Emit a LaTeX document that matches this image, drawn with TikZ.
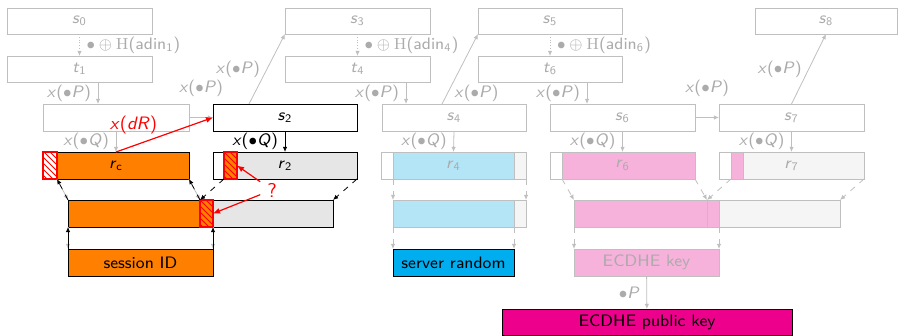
\documentclass[tikz,border=0pt]{standalone}
\usepackage{xcolor}
\usepackage{tikz}
\usepackage{amsmath}
\usetikzlibrary{arrows.meta,positioning,fit,calc,patterns}
\renewcommand{\familydefault}{\sfdefault}
\definecolor{tlsorange}{HTML}{FF8000}
\definecolor{tlsgray}{HTML}{E6E6E6}
\definecolor{tlsfade}{HTML}{BFBFBF}
\definecolor{tlsfadetext}{HTML}{ABABAB}
\definecolor{tlsltblue}{HTML}{B3E5F7}
\definecolor{tlsltgray}{HTML}{F5F5F5}
\definecolor{tlsltpink}{HTML}{F7B2DC}
\definecolor{tlsblue}{HTML}{00AEEF}
\definecolor{tlsmagenta}{HTML}{EC008C}
\newcommand{\varsub}[2]{\textit{#1}\textsubscript{#2}}
\newcommand{\xmul}[1]{\textit{x}($\bullet$\textit{#1})}
\newcommand{\lblfont}{\fontsize{8.3}{9.5}\selectfont}
\tikzset{
  cell/.style={inner sep=0pt, outer sep=0pt},
  cellfill/.style={cell, fill=#1},
  fadelbl/.style={text=tlsfadetext, font=\lblfont},
  darklbl/.style={text=black, font=\lblfont},
  fadebox/.style={cell, draw=tlsfade, label={[fadelbl]center:#1}},
  fadebox/.default={},
  darkbox/.style={cell, draw=black, label={[darklbl]center:#1}},
  darkbox/.default={},
  hatchcell/.style={cell, draw=red, thick, fill=#1, postaction={pattern=north west lines, pattern color=red}},
  fadearrow/.style={draw=tlsfade, -{Latex[length=2.6pt,width=2.2pt]}},
  darkarrow/.style={draw=black, -{Latex[length=2.6pt,width=2.2pt]}},
  redarrow/.style={draw=red, semithick, -{Latex[length=3.5pt,width=3pt]}}
}

\begin{document}
\begin{tikzpicture}[x=0.5pt, y=-0.5pt]
\useasboundingbox (0,0) rectangle (898,336);

% DRBG states
\node[fadebox={\varsub{s}{0}}, fit={(7,8) (152,34)}] (s0) {};
\node[fadebox={\varsub{s}{3}}, fit={(285,8) (430,34)}] (s3) {};
\node[fadebox={\varsub{s}{5}}, fit={(478,8) (622,34)}] (s5) {};
\node[fadebox={\varsub{s}{8}}, fit={(755,8) (897,34)}] (s8) {};
\node[fadebox={\varsub{t}{1}}, fit={(7,56) (152,82)}] (t1) {};
\node[fadebox={\varsub{t}{4}}, fit={(285,56) (430,82)}] (t4) {};
\node[fadebox={\varsub{t}{6}}, fit={(478,56) (622,82)}] (t6) {};
\node[fadebox, fit={(43,104) (189,131)}] (b1) {};
\node[darkbox={\varsub{s}{2}}, fit={(213,104) (357,131)}] (s2) {};
\node[fadebox={\varsub{s}{4}}, fit={(382,104) (526,131)}] (s4) {};
\node[fadebox={\varsub{s}{6}}, fit={(550,104) (695,131)}] (s6) {};
\node[fadebox={\varsub{s}{7}}, fit={(719,104) (864,131)}] (s7) {};

% random outputs
\node[cellfill=tlsorange, fit={(57,152) (189,179)}] (rco) {};
\node[darkbox={\varsub{r}{c}}, fit={(43,152) (189,179)}] (rc) {};
\node[hatchcell=white, fit={(43,152) (57,179)}] (rch) {};
\node[cellfill=tlsgray, fit={(237,152) (357,179)}] (r2g) {};
\node[darkbox={\varsub{r}{2}}, fit={(213,152) (357,179)}] (r2) {};
\node[hatchcell=tlsorange, fit={(224,152) (237,179)}] (r2h) {};
\node[cellfill=tlsltblue, draw=tlsfade, fit={(393,152) (514,179)}] (r4b) {};
\node[cellfill=tlsltgray, draw=tlsfade, fit={(514,152) (526,179)}] (r4g) {};
\node[fadebox={\varsub{r}{4}}, fit={(381,152) (526,179)}] (r4) {};
\node[cellfill=tlsltpink, draw=tlsfade, fit={(562,152) (695,179)}] (r6p) {};
\node[fadebox={\varsub{r}{6}}, fit={(550,152) (695,179)}] (r6) {};
\node[cellfill=tlsltpink, draw=tlsfade, fit={(731,152) (743,179)}] (r7p) {};
\node[cellfill=tlsltgray, draw=tlsfade, fit={(743,152) (864,179)}] (r7g) {};
\node[fadebox={\varsub{r}{7}}, fit={(719,152) (864,179)}] (r7) {};

% concatenations
\node[cellfill=tlsorange, draw=black, fit={(68,200) (200,227)}] (clo) {};
\node[cellfill=tlsgray, draw=black, fit={(213,200) (333,227)}] (clg) {};
\node[hatchcell=tlsorange, fit={(200,200) (213,227)}] (clh) {};
\node[cellfill=tlsltblue, draw=tlsfade, fit={(393,200) (514,227)}] (cmb) {};
\node[cellfill=tlsltgray, draw=tlsfade, fit={(514,200) (526,227)}] (cmg) {};
\node[cellfill=tlsltpink, draw=tlsfade, fit={(574,200) (707,227)}] (crp) {};
\node[cellfill=tlsltpink, draw=tlsfade, fit={(707,200) (719,227)}] (crq) {};
\node[cellfill=tlsltgray, draw=tlsfade, fit={(719,200) (840,227)}] (crg) {};

% protocol values
\node[darkbox={session ID}, fill=tlsorange, fit={(68,249) (213,276)}] (sid) {};
\node[darkbox={server random}, fill=tlsblue, fit={(393,249) (514,276)}] (srv) {};
\node[fadebox={ECDHE key}, fill=tlsltpink, fit={(574,249) (719,276)}] (ek) {};
\node[darkbox={ECDHE public key}, fill=tlsmagenta, fit={(502,309) (792,335)}] (pk) {};

% state updates
\draw[fadearrow, densely dotted] (s0) -- node[fadelbl, right] {$\bullet\oplus\mathrm{H}$(adin\textsubscript{1})} (t1);
\draw[fadearrow, densely dotted] (s3) -- node[fadelbl, right] {$\bullet\oplus\mathrm{H}$(adin\textsubscript{4})} (t4);
\draw[fadearrow, densely dotted] (s5) -- node[fadelbl, right] {$\bullet\oplus\mathrm{H}$(adin\textsubscript{6})} (t6);
\draw[fadearrow] ([xshift=9.25pt]t1.south) -- node[fadelbl, left] {\xmul{P}} ([xshift=9.25pt]t1.south |- b1.north);
\draw[fadearrow] ([xshift=24.25pt]t4.south) -- node[fadelbl, left] {\xmul{P}} ([xshift=24.25pt]t4.south |- s4.north);
\draw[fadearrow] ([xshift=18.5pt]t6.south) -- node[fadelbl, left] {\xmul{P}} ([xshift=18.5pt]t6.south |- s6.north);
\draw[fadearrow] (b1.east) -- node[fadelbl, above=7pt] {\xmul{P}} (s2.west);
\draw[fadearrow] (s6.east) -- node[fadelbl, above=7pt] {\xmul{P}} (s7.west);
\draw[fadearrow] ([xshift=18pt]s2.north west) -- node[fadelbl, left] {\xmul{P}} (s3.south west);
\draw[fadearrow] ([xshift=-6pt]s4.north) -- node[fadelbl, pos=0.15, right] {\xmul{P}} (s5.south west);
\draw[fadearrow] (s7.north) -- node[fadelbl, left] {\xmul{P}} (s8.south);
\draw[fadearrow] (b1.south) -- node[fadelbl, left] {\xmul{Q}} (rc.north);
\draw[darkarrow] (s2.south) -- node[darklbl, left] {\xmul{Q}} (r2.north);
\draw[fadearrow] (s4.south) -- node[fadelbl, left] {\xmul{Q}} (r4.north);
\draw[fadearrow] (s6.south) -- node[fadelbl, left] {\xmul{Q}} (r6.north);
\draw[fadearrow] (s7.south) -- node[fadelbl, left] {\xmul{Q}} (r7.north);

% session ID
\draw[fadearrow, dashed] (rch.south east) -- (clo.north west);
\draw[darkarrow, dashed] (clo.north west) -- (rch.south east);
\draw[fadearrow, dashed] (rc.south east) -- (clo.north east);
\draw[darkarrow, dashed] (clo.north east) -- (rc.south east);
\draw[darkarrow, dashed] (r2h.south west) -- (clh.north west);
\draw[darkarrow, dashed] (r2.south east) -- (clg.north east);
\draw[fadearrow] (clo.south west) -- (sid.north west);
\draw[darkarrow] (sid.north west) -- (clo.south west);
\draw[fadearrow] (clh.south east) -- (sid.north east);
\draw[darkarrow] (sid.north east) -- (clh.south east);

% server random
\draw[fadearrow, dashed] (r4b.south west) -- (cmb.north west);
\draw[fadearrow, dashed] (r4.south east) -- (cmg.north east);
\draw[fadearrow, dashed] (cmb.south west) -- (srv.north west);
\draw[fadearrow, dashed] (cmb.south east) -- (srv.north east);

% ECDHE key
\draw[fadearrow, dashed] (r6p.south west) -- (crp.north west);
\draw[fadearrow, dashed] (r6.south east) -- (crp.north east);
\draw[fadearrow, dashed] (r7p.south west) -- (crq.north west);
\draw[fadearrow, dashed] (r7.south east) -- (crg.north east);
\draw[fadearrow, dashed] (crp.south west) -- (ek.north west);
\draw[fadearrow, dashed] (crq.south east) -- (ek.north east);
\draw[fadearrow] (ek) -- node[fadelbl, left] {$\bullet$\textit{P}} (pk);

% attack
\draw[redarrow] (rc.north) -- node[pos=0.45, anchor=south east, inner sep=1pt, text=red, font=\fontsize{9}{10}\selectfont] {\textit{x}(\textit{dR})} (s2.west);
\node[text=red, font=\fontsize{10}{11}\selectfont] (qm) at (272,190) {?};
\draw[redarrow] (qm) -- (r2h.east);
\draw[redarrow] (qm) -- (clh.east);
\end{tikzpicture}
\end{document}
